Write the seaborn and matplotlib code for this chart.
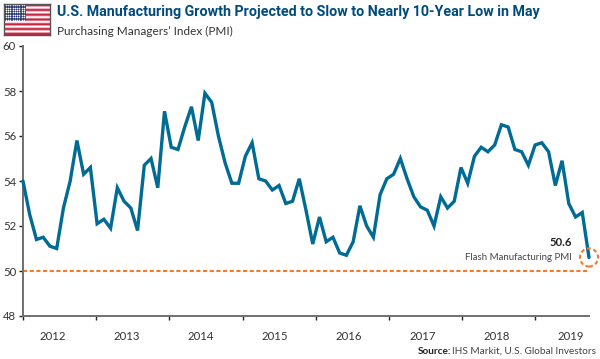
import matplotlib
matplotlib.use('Agg')
import matplotlib.pyplot as plt
import numpy as np
import seaborn as sns

# Values, one per point, left to right
pmi = [
    54.0, 52.5, 51.4, 51.5, 51.1, 51.0, 52.8, 54.0, 55.8, 54.3, 54.6, 52.1,
    52.3, 51.9, 53.7, 53.1, 52.8, 51.8, 54.7, 55.0, 53.7, 57.1, 55.5, 55.4,
    56.4, 57.3, 55.8, 57.9, 57.5, 56.0, 54.8, 53.9, 53.9, 55.1, 55.7, 54.1,
    54.0, 53.6, 53.8, 53.0, 53.1, 54.1, 52.7, 51.2, 52.4, 51.3, 51.5, 50.8,
    50.7, 51.3, 52.9, 52.0, 51.5, 53.4, 54.1, 54.3, 55.0, 54.1, 53.3, 52.85,
    52.7, 52.0, 53.3, 52.8, 53.1, 54.6, 53.9, 55.1, 55.5, 55.3, 55.6, 56.5,
    56.4, 55.4, 55.3, 54.7, 55.6, 55.7, 55.3, 53.8, 54.9, 53.0, 52.4, 52.6,
    50.6,
]
years = ['2012', '2013', '2014', '2015', '2016', '2017', '2018', '2019']
y_ticks = [48, 50, 52, 54, 56, 58, 60]
threshold = 50

BLUE = '#006B94'
ORANGE = '#F47A30'
NAVY = '#004A7C'
W, H = 600, 359

sns.set_theme(style='white')
plt.rcParams['font.family'] = ['Lato', 'DejaVu Sans']

fig = plt.figure(figsize=(W / 100, H / 100), dpi=100)
ax = fig.add_axes([23 / W, 1 - 316 / H, 566 / W, 270 / H])

x = np.arange(len(pmi))
sns.lineplot(x=x, y=pmi, ax=ax, color=BLUE, linewidth=2.4, zorder=3,
             solid_joinstyle='miter', clip_on=False)
ax.plot([0, x[-1]], [threshold, threshold], color=ORANGE, linewidth=1.5,
        linestyle=(0, (2.0, 1.2)))

ax.set_xlim(0, x[-1])
ax.set_ylim(48, 60)
sns.despine(ax=ax)
for side in ['left', 'bottom']:
    ax.spines[side].set_color('#6f6f6f')
    ax.spines[side].set_linewidth(1.4)

# Year ticks do not line up with the points, 73.2px apart on the axis
px = 566 / x[-1]
ax.set_xticks(np.arange(len(years)) * 73.2 / px)
ax.set_xticklabels([])
ax.set_xticks((np.arange(len(years)) * 74 + 30) / px, labels=years, minor=True)
ax.tick_params(axis='x', which='major', length=3, width=1, color='#222222',
               bottom=True, pad=0)
ax.tick_params(axis='x', which='minor', length=0, pad=11, labelsize=8.2,
               labelcolor='#333333')
ax.set_yticks(y_ticks)
ax.tick_params(axis='y', length=3, width=1, color='#222222', left=True, pad=2,
               labelsize=8.2, labelcolor='#333333')

# Callout for the last point
ax.scatter([x[-1]], [pmi[-1]], s=170, facecolors='none', edgecolors=ORANGE,
           linewidths=1.5, linestyle=(0, (1.9, 1.3)), clip_on=False, zorder=4)
fig.text(572 / W, 1 - 243 / H, '50.6', ha='right', va='center', fontsize=8.2,
         fontweight='bold', color='#222222')
fig.text(572 / W, 1 - 257 / H, 'Flash Manufacturing PMI', ha='right', va='center',
         fontsize=6.9, color='#444444')

# Titles
fig.text(57 / W, 1 - 12 / H, 'U.S. Manufacturing Growth Projected to Slow to Nearly 10-Year Low in May',
         ha='left', va='center', fontsize=10.3, fontweight='bold', color=NAVY,
         family=['Roboto', 'DejaVu Sans'])
fig.text(57 / W, 1 - 31 / H, 'Purchasing Managers\u2019 Index (PMI)', ha='left', va='center',
         fontsize=8.5, color='#333333')
fig.text(596 / W, 1 - 351 / H, 'IHS Markit, U.S. Global Investors', ha='right', va='center',
         fontsize=7.2, color='#444444')
fig.text(451 / W, 1 - 351 / H, 'Source:', ha='right', va='center', fontsize=7.2,
         fontweight='bold', color='#222222')

# Flag
flag = fig.add_axes([4 / W, 1 - 35 / H, 46 / W, 31 / H])
stripes = np.array([[i % 2] for i in range(13)])
flag.imshow(stripes, aspect='auto', extent=(0, 1, 0, 1),
            cmap=matplotlib.colors.ListedColormap(['#C8213F', '#FFFFFF']))
flag.fill_between([0, 0.47], 6 / 13, 1, color='#2B3A73', linewidth=0)
sx, sy = np.meshgrid(np.linspace(0.04, 0.43, 9), np.linspace(0.5, 0.96, 7))
flag.scatter(sx.ravel(), sy.ravel(), s=1.4, color='white', linewidths=0)
flag.set_xlim(0, 1)
flag.set_ylim(0, 1)
flag.set_xticks([])
flag.set_yticks([])
for s in flag.spines.values():
    s.set_color('#555555')
    s.set_linewidth(1.0)

fig.savefig('out.png', dpi=100)
